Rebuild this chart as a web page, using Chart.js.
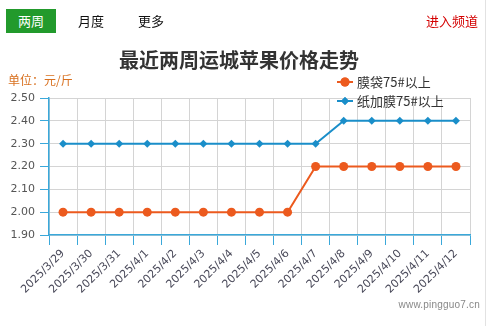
<!DOCTYPE html>
<html>
<head>
<meta charset="utf-8">
<script src="https://cdn.jsdelivr.net/npm/chart.js@4.4.1/dist/chart.umd.min.js"></script>
<style>
  html, body { margin: 0; padding: 0; background: #fff; }
  body { width: 489px; height: 326px; position: relative; overflow: hidden;
         font-family: "Noto Sans CJK SC", "DejaVu Sans", sans-serif; }
  #wrap { position: absolute; left: 0; top: 0; width: 489px; height: 326px; }
  .tab { position: absolute; top: 9px; height: 24px; line-height: 24px; font-size: 13px; color: #111; }
  .tab.on { left: 6px; width: 50px; background: #229a2c; color: #fff; text-align: center; }
  #edge { position: absolute; left: 485px; top: 0; width: 1px; height: 326px; background: #e2e2e2; }
  #more { position: absolute; right: 11px; top: 9px; height: 24px; line-height: 24px; font-size: 13px; color: #d40000; }
  #site { position: absolute; right: 9px; top: 299px; font-size: 10px; color: #888;
          font-family: "Liberation Sans", sans-serif; letter-spacing: 0.2px; }
</style>
</head>
<body>
<div id="wrap"><canvas id="myChart" width="489" height="326"></canvas></div>
<div class="tab on">两周</div>
<div class="tab" style="left:78px">月度</div>
<div class="tab" style="left:138px">更多</div>
<div id="more">进入频道</div>
<div id="edge"></div>
<div id="site">www.pingguo7.cn</div>
<script>
var dates = ["2025/3/29", "2025/3/30", "2025/3/31", "2025/4/1", "2025/4/2", "2025/4/3", "2025/4/4",
  "2025/4/5", "2025/4/6", "2025/4/7", "2025/4/8", "2025/4/9", "2025/4/10", "2025/4/11", "2025/4/12"];
var mdPrice = [2.00, 2.00, 2.00, 2.00, 2.00, 2.00, 2.00, 2.00, 2.00, 2.20, 2.20, 2.20, 2.20, 2.20, 2.20];
var zjmPrice = [2.30, 2.30, 2.30, 2.30, 2.30, 2.30, 2.30, 2.30, 2.30, 2.30, 2.40, 2.40, 2.40, 2.40, 2.40];
var seriesNames = ["膜袋75#以上", "纸加膜75#以上"];
var yTicks = [1.90, 2.00, 2.10, 2.20, 2.30, 2.40, 2.50];

var axisBlue = "#3aa8da";
var gridGray = "#d4d4d4";

// legend stacked at top right, drawn straight onto the canvas
var sideLegend = {
  id: "sideLegend",
  afterDraw: function(chart) {
    var ctx = chart.ctx;
    ctx.save();
    chart.data.datasets.forEach(function(ds, i) {
      var y = 82 + i * 19;
      ctx.strokeStyle = ds.borderColor;
      ctx.lineWidth = 2;
      ctx.beginPath();
      ctx.moveTo(337, y);
      ctx.lineTo(353, y);
      ctx.stroke();
      ctx.fillStyle = ds.pointBackgroundColor;
      Chart.helpers.drawPoint(ctx, {pointStyle: ds.pointStyle, radius: ds.pointRadius, rotation: 0, borderWidth: 0}, 345, y);
      ctx.fill();
      ctx.fillStyle = "#333";
      ctx.font = "13px 'Noto Sans CJK SC'";
      ctx.textBaseline = "middle";
      ctx.fillText(ds.label, 357, y);
    });
    ctx.restore();
  }
};

new Chart("myChart", {
  type: "line",
  data: {
    labels: dates,
    datasets: [{
      label: seriesNames[0],
      data: mdPrice,
      borderColor: "#ec5a1e",
      backgroundColor: "#ec5a1e",
      pointBackgroundColor: "#ec5a1e",
      pointBorderWidth: 0,
      pointStyle: "circle",
      pointRadius: 4.5,
      borderWidth: 2,
      tension: 0
    }, {
      label: seriesNames[1],
      data: zjmPrice,
      borderColor: "#1a8ec9",
      backgroundColor: "#1a8ec9",
      pointBackgroundColor: "#1a8ec9",
      pointBorderWidth: 0,
      pointStyle: "rectRot",
      pointRadius: 4,
      borderWidth: 2,
      tension: 0
    }]
  },
  options: {
    responsive: false,
    animation: false,
    layout: { padding: { top: 48, left: 8, right: 19, bottom: 0 } },
    plugins: {
      legend: { display: false },
      tooltip: { enabled: false },
      title: {
        display: true,
        text: "最近两周运城苹果价格走势",
        color: "#333",
        font: { size: 20, weight: "bold", family: "'Noto Sans CJK SC'" },
        padding: { top: 0, bottom: 1 }
      },
      subtitle: {
        display: true,
        text: "单位：元/斤",
        align: "start",
        color: "#d8701f",
        font: { size: 12, family: "'Noto Sans CJK SC'" },
        padding: { top: 0, bottom: 10.6 }
      }
    },
    scales: {
      x: {
        offset: true,
        grid: { offset: true, color: gridGray, tickColor: axisBlue, tickLength: 10, drawTicks: true },
        border: { color: axisBlue, width: 1.5 },
        ticks: {
          autoSkip: false, minRotation: 45, maxRotation: 45,
          color: "#4a4a5a", padding: 2,
          font: { size: 11, family: "'DejaVu Sans'" }
        },
        afterFit: function(scale) { scale.height = 91; }
      },
      y: {
        min: 1.9, max: 2.5,
        afterBuildTicks: function(scale) {
          scale.ticks = yTicks.map(function(v) { return { value: v }; });
        },
        grid: { color: gridGray, tickColor: axisBlue, tickLength: 9 },
        border: { color: axisBlue, width: 1.5 },
        ticks: {
          color: "#555",
          padding: 5,
          font: { size: 11, family: "'DejaVu Sans'" },
          callback: function(v) { return Number(v).toFixed(2); }
        },
        afterFit: function(scale) { scale.width = 41; }
      }
    }
  },
  plugins: [sideLegend]
});
</script>
</body>
</html>
